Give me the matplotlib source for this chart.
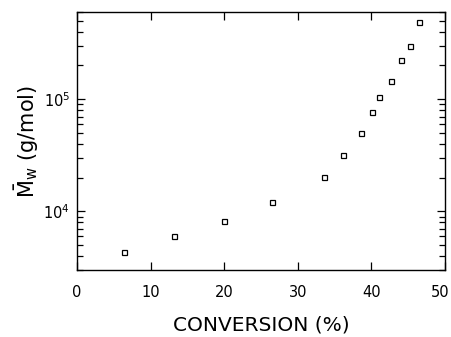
import matplotlib
matplotlib.use("Agg")
import matplotlib.pyplot as plt
import matplotlib.transforms as mtransforms

# conversion (%) and weight-average molecular weight (g/mol)
conversion = [6.4, 13.2, 20.0, 26.5, 33.6, 36.1, 38.6, 40.1, 41.1, 42.6, 44.0, 45.3, 46.5]
mw = [4300, 6070, 8190, 12200, 20400, 31600, 50500, 77600, 105000, 144000, 223000, 299000, 490000]

xticks = [0, 10, 20, 30, 40, 50]

plt.rcParams['font.family'] = ['DejaVu Sans']
plt.rcParams['mathtext.fontset'] = 'dejavusans'

fig = plt.figure(figsize=(4.52, 3.37), dpi=100)
ax = fig.add_axes([77/452, 1-270/337, (445-77)/452, (270-12)/337])

ax.plot(conversion, mw, linestyle="none", marker="s", markersize=3.6,
        markerfacecolor="white", markeredgecolor="k", markeredgewidth=0.9)

ax.set_yscale("log")
ax.set_xlim(0, 50)
ax.set_ylim(3000, 6e5)
ax.set_xticks(xticks)
ax.xaxis.set_minor_locator(matplotlib.ticker.NullLocator())

for s in ax.spines.values():
    s.set_linewidth(1.0)

ax.tick_params(which="both", direction="in", top=True, right=True, width=0.9)
ax.tick_params(which="major", length=5.5)
ax.tick_params(which="minor", length=4.5)
ax.tick_params(axis="x", pad=11, labelsize=10.5)
ax.tick_params(axis="y", pad=5, labelsize=10.5)

# keep the "50" inside the picture, as in the original
fig.canvas.draw()
last = ax.get_xticklabels()[-1]
last.set_transform(last.get_transform() + mtransforms.ScaledTranslation(-5/100, 0, fig.dpi_scale_trans))

ax.set_xlabel("CONVERSION (%)", fontsize=14.5, labelpad=11)
ax.set_ylabel(r"$\bar{\mathrm{M}}_{\mathrm{w}}$ (g/mol)", fontsize=15, labelpad=2)

fig.savefig("out.png", dpi=100)
